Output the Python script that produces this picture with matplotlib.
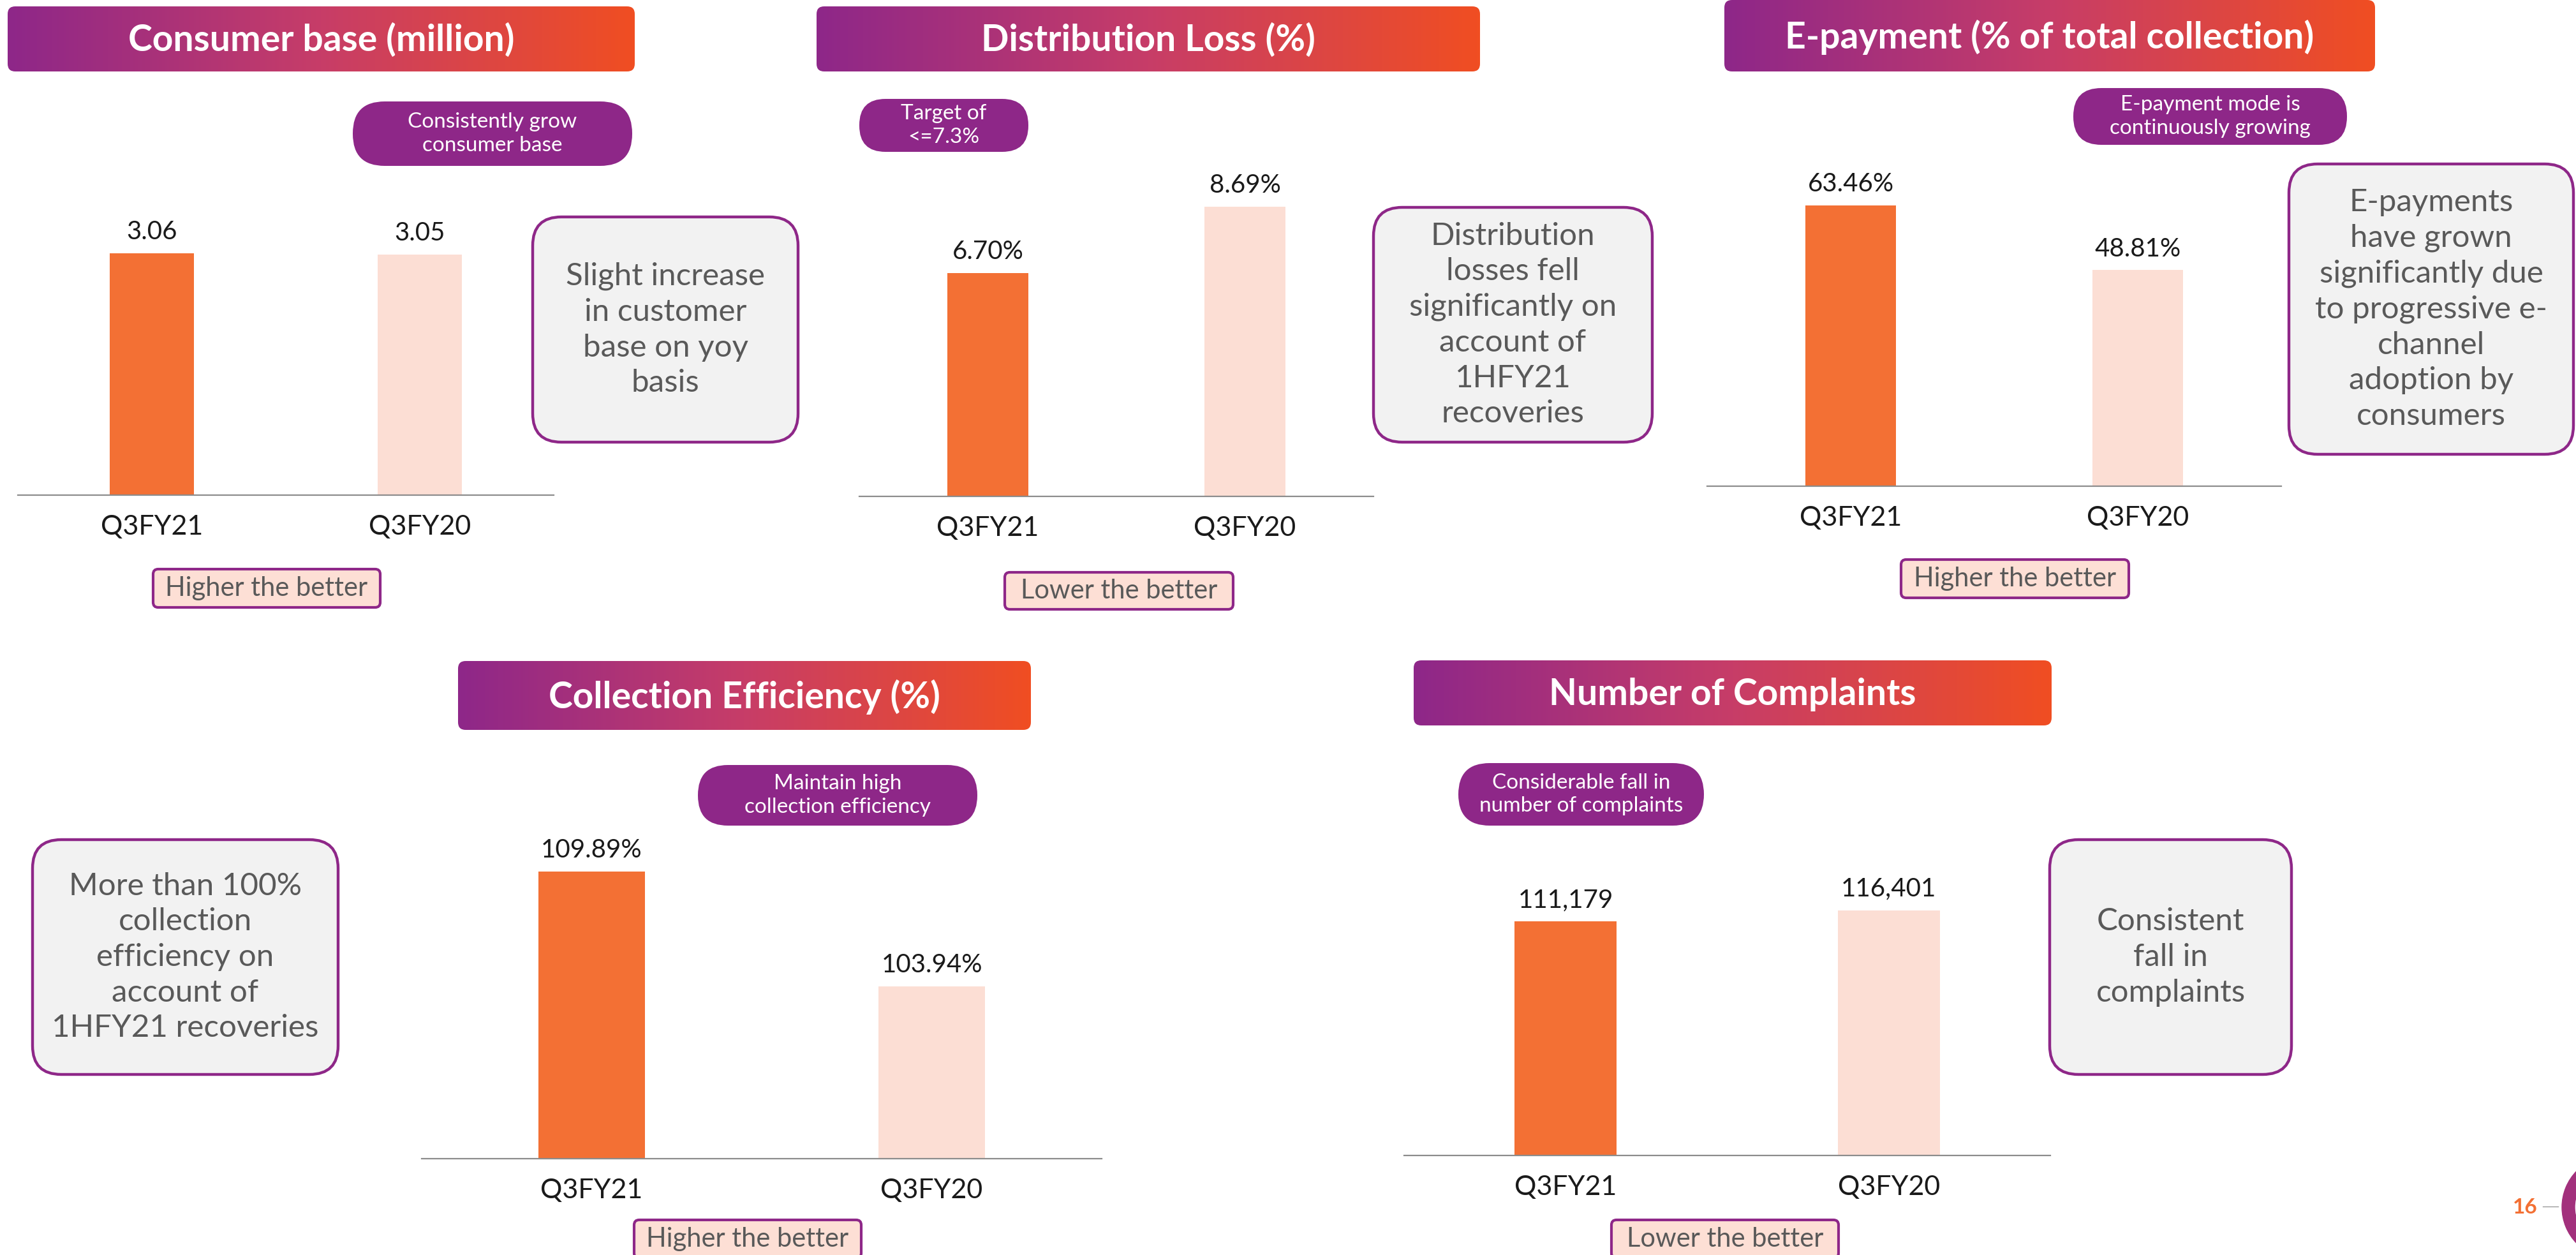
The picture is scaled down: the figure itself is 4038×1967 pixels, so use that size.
import numpy as np
import matplotlib
matplotlib.use('Agg')
import matplotlib.pyplot as plt
from matplotlib.patches import FancyBboxPatch, Wedge
from matplotlib.colors import LinearSegmentedColormap

plt.rcParams['font.family'] = ['Lato', 'DejaVu Sans']

# ---- data ----
categories = ['Q3FY21', 'Q3FY20']
consumer_base = [3.06, 3.05]
dist_loss = [6.70, 8.69]
e_payment = [63.46, 48.81]
coll_eff = [109.89, 103.94]
complaints = [111179, 116401]

titles = ['Consumer base (million)', 'Distribution Loss (%)',
          'E-payment (% of total collection)', 'Collection Efficiency (%)',
          'Number of Complaints']
pill_texts = ['Consistently grow\nconsumer base', 'Target of\n<=7.3%',
              'E-payment mode is\ncontinuously growing',
              'Maintain high\ncollection efficiency',
              'Considerable fall in\nnumber of complaints']
note_texts = ['Slight increase\nin customer\nbase on yoy\nbasis',
              'Distribution\nlosses fell\nsignificantly on\naccount of\n1HFY21\nrecoveries',
              'E-payments\nhave grown\nsignificantly due\nto progressive e-\nchannel\nadoption by\nconsumers',
              'More than 100%\ncollection\nefficiency on\naccount of\n1HFY21 recoveries',
              'Consistent\nfall in\ncomplaints']
badge_texts = ['Higher the better', 'Lower the better', 'Higher the better',
               'Higher the better', 'Lower the better']
value_fmt = ['{:.2f}', '{:.2f}%', '{:.2f}%', '{:.2f}%', '{:,.0f}']
page_no = '16'

series = [consumer_base, dist_loss, e_payment, coll_eff, complaints]

# ---- layout (pixel coords, origin top-left) ----
W, H = 4038, 1967
ORANGE = '#F37034'
PEACH = '#FCDED4'
PURPLE = '#8E2788'
GREY_TXT = '#595959'

panels = [
    dict(banner=(12, 10, 995, 112), pill=(553, 159, 991, 260),
         note=(835, 340, 1251, 693), badge=(240, 892, 596, 952),
         ax=(28, 250, 868, 776), ylim=(0, 4.25)),
    dict(banner=(1280, 10, 2320, 112), pill=(1347, 155, 1612, 238),
         note=(2153, 325, 2590, 693), badge=(1575, 897, 1933, 955),
         ax=(1347, 250, 2153, 778), ylim=(0, 10.1)),
    dict(banner=(2703, 0, 3723, 112), pill=(3250, 138, 3679, 227),
         note=(3588, 257, 4034, 712), badge=(2980, 877, 3337, 937),
         ax=(2676, 250, 3576, 762), ylim=(0, 73.8)),
    dict(banner=(718, 1036, 1616, 1144), pill=(1094, 1199, 1532, 1294),
         note=(51, 1316, 530, 1684), badge=(994, 1912, 1350, 1972),
         ax=(661, 1300, 1727, 1816), ylim=(95, 112.06)),
    dict(banner=(2216, 1035, 3216, 1137), pill=(2286, 1196, 2671, 1294),
         note=(3213, 1316, 3592, 1684), badge=(2526, 1912, 2882, 1972),
         ax=(2201, 1300, 3214, 1811), ylim=(0, 154800)),
]

fig = plt.figure(figsize=(W / 100, H / 100), dpi=100)
bg = fig.add_axes([0, 0, 1, 1])
bg.set_xlim(0, W)
bg.set_ylim(H, 0)
bg.axis('off')

grad = LinearSegmentedColormap.from_list('g', ['#8E2789', '#C73D68', '#F04E22'])
gimg = np.linspace(0, 1, 256).reshape(1, -1)


def rbox(box, r, fc, ec='none', lw=0, z=1):
    x0, y0, x1, y1 = box
    p = FancyBboxPatch((x0, y0), x1 - x0, y1 - y0,
                       boxstyle='round,pad=0,rounding_size=%d' % r,
                       fc=fc, ec=ec, lw=lw, zorder=z)
    bg.add_patch(p)
    return p


for i, pn in enumerate(panels):
    # title banner with gradient
    x0, y0, x1, y1 = pn['banner']
    p = rbox(pn['banner'], 12, 'none')
    im = bg.imshow(gimg, cmap=grad, extent=(x0, x1, y1, y0), aspect='auto', zorder=1)
    im.set_clip_path(p)
    bg.text((x0 + x1) / 2, (y0 + y1) / 2 + 2, titles[i], color='white',
            fontsize=41, fontweight='bold', ha='center', va='center', zorder=3)

    # purple pill
    x0, y0, x1, y1 = pn['pill']
    rbox(pn['pill'], (y1 - y0) / 2, PURPLE)
    bg.text((x0 + x1) / 2, (y0 + y1) / 2, pill_texts[i], color='white',
            fontsize=24, ha='center', va='center', linespacing=1.28, zorder=3)

    # grey note box
    x0, y0, x1, y1 = pn['note']
    rbox(pn['note'], 45, '#F2F2F2', PURPLE, 3.2)
    bg.text((x0 + x1) / 2, (y0 + y1) / 2, note_texts[i], color=GREY_TXT,
            fontsize=35.5, ha='center', va='center', linespacing=1.32, zorder=3)

    # better badge
    x0, y0, x1, y1 = pn['badge']
    rbox(pn['badge'], 8, '#FDDFD5', PURPLE, 3)
    bg.text((x0 + x1) / 2, min((y0 + y1) / 2, 1942), badge_texts[i], color=GREY_TXT,
            fontsize=30, ha='center', va='center', zorder=3)

    # bar chart
    ax0, ay0, ax1, ay1 = pn['ax']
    ax = fig.add_axes([ax0 / W, 1 - ay1 / H, (ax1 - ax0) / W, (ay1 - ay0) / H])
    ax.patch.set_alpha(0)
    vals = series[i]
    xs = np.arange(len(categories))
    ax.bar(xs, [v - pn['ylim'][0] for v in vals], bottom=pn['ylim'][0],
           width=0.315, color=[ORANGE, PEACH])
    for x, v in zip(xs, vals):
        ax.annotate(value_fmt[i].format(v), (x, v), xytext=(0, 24),
                    textcoords='offset points', ha='center', va='center',
                    fontsize=29, color='#1a1a1a')
    ax.set_xlim(-0.5, 1.5)
    ax.set_ylim(*pn['ylim'])
    ax.set_xticks(xs)
    ax.set_xticklabels(categories, fontsize=31, color='#1a1a1a')
    ax.tick_params(axis='x', length=0, pad=22)
    ax.set_yticks([])
    for s in ['top', 'right', 'left']:
        ax.spines[s].set_visible(False)
    ax.spines['bottom'].set_color('#8C8C8C')
    ax.spines['bottom'].set_linewidth(1.6)

# page number and decorative ring
bg.text(3958, 1892, page_no, color=ORANGE, fontsize=24, fontweight='bold',
        ha='center', va='center')
bg.plot([3986, 4010], [1891, 1891], color='#9A9A9A', lw=1)
bg.add_patch(Wedge((4097, 1892), 81, 0, 360, width=20, color='#A2307C', zorder=2))

fig.savefig('out.png', dpi=100)
